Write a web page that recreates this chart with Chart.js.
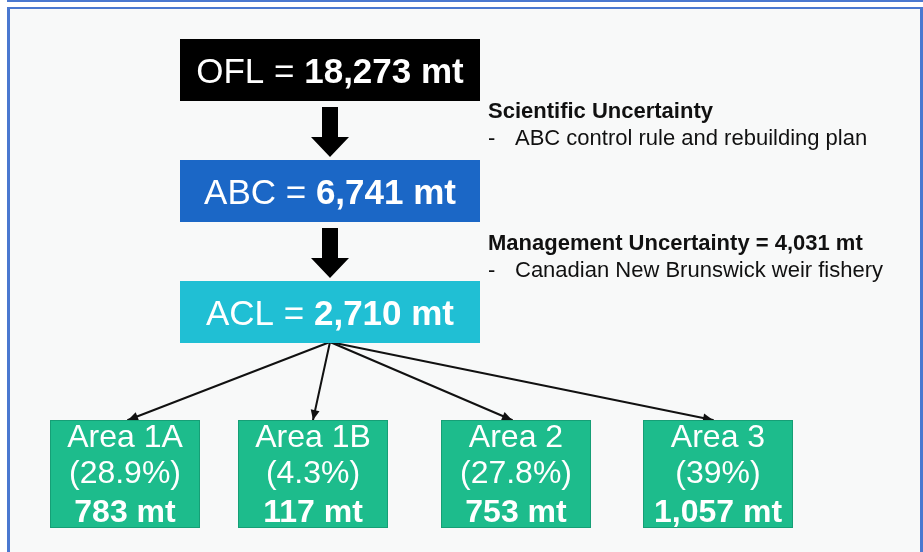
<!DOCTYPE html>
<html>
<head>
<meta charset="utf-8">
<script src="https://cdn.jsdelivr.net/npm/chart.js@4.4.1/dist/chart.umd.min.js"></script>
<style>
    html, body { margin: 0; padding: 0; background: #ffffff; overflow: hidden; }
    #topLine { position: absolute; left: 7px; top: 0; width: 916px; height: 2px; background: #4a78d0; }
    #frame {
        position: absolute; left: 7px; top: 7px; width: 910px; height: 600px;
        border: 3px solid #4a78d0; border-top-width: 2px; background: #f8f9f9;
    }
    #diagram { position: absolute; left: 0; top: 0; }
</style>
</head>
<body>
<div id="topLine"></div>
<div id="frame"></div>
<canvas id="diagram" width="923" height="552"></canvas>
<script>
// Limity połowowe - wartości z wykresu
var stageLabels = ['OFL', 'ABC', 'ACL'];
var stageValues = [18273, 6741, 2710];

var areaNames = ['Area 1A', 'Area 1B', 'Area 2', 'Area 3'];
var areaShares = ['28.9%', '4.3%', '27.8%', '39%'];
var areaValues = [783, 117, 753, 1057];

var noteTitles = ['Scientific Uncertainty', 'Management Uncertainty'];
var noteValues = [null, 4031];
var noteItems = ['ABC control rule and rebuilding plan', 'Canadian New Brunswick weir fishery'];

// układ (piksele strony) i style
var FONT = '"Liberation Sans", Arial, Helvetica, sans-serif';
var STAGE_BOX = { x: 180, w: 300, h: 62, tops: [39, 160, 281], colors: ['#000000', '#1b67c6', '#20bfd4'] };
var AREA_BOX = { xs: [50, 238, 441, 643], y: 420, w: 150, h: 108, color: '#1dbc8c', edge: '#169f76' };
var APEX = { x: 330, y: 342 };
var AREA_TIPS = [128, 313, 512, 713];
var BLOCK_ARROWS = [{ top: 107, tip: 157 }, { top: 228, tip: 278 }];
var NOTES = { x: 488, textX: 515, titleY: [118, 250], itemY: [145, 277] };

function fmt(v) { return v.toLocaleString('en-US'); }

var connectors = areaNames.map(function (name, i) {
    return {
        label: name,
        data: [{ x: APEX.x, y: APEX.y }, { x: AREA_TIPS[i], y: AREA_BOX.y }],
        borderColor: '#111111',
        borderWidth: 2,
        pointRadius: 0,
        fill: false,
        tension: 0,
    };
});

function drawMixed(ctx, parts, cx, baseline) {
    var total = 0;
    parts.forEach(function (p) { ctx.font = p.font; p.w = ctx.measureText(p.text).width; total += p.w; });
    var x = cx - total / 2;
    ctx.textAlign = 'left';
    ctx.textBaseline = 'alphabetic';
    parts.forEach(function (p) { ctx.font = p.font; ctx.fillText(p.text, x, baseline); x += p.w; });
}

var diagramPlugin = {
    id: 'diagram',
    afterDatasetsDraw: function (chart) {
        var ctx = chart.ctx;
        var sx = chart.scales.x, sy = chart.scales.y;
        function px(v) { return sx.getPixelForValue(v); }
        function py(v) { return sy.getPixelForValue(v); }
        ctx.save();

        // grotki na końcach łączników
        chart.data.datasets.forEach(function (ds, i) {
            var pts = chart.getDatasetMeta(i).data;
            var a = pts[0], b = pts[pts.length - 1];
            var ang = Math.atan2(b.y - a.y, b.x - a.x);
            var len = 10, half = 4.5;
            ctx.fillStyle = '#111111';
            ctx.beginPath();
            ctx.moveTo(b.x, b.y);
            ctx.lineTo(b.x - len * Math.cos(ang) + half * Math.sin(ang), b.y - len * Math.sin(ang) - half * Math.cos(ang));
            ctx.lineTo(b.x - len * Math.cos(ang) - half * Math.sin(ang), b.y - len * Math.sin(ang) + half * Math.cos(ang));
            ctx.closePath();
            ctx.fill();
        });

        // grube strzałki między etapami
        var cx = px(APEX.x);
        BLOCK_ARROWS.forEach(function (ar) {
            var top = py(ar.top), tip = py(ar.tip), headTop = tip - 20;
            ctx.fillStyle = '#000000';
            ctx.beginPath();
            ctx.moveTo(cx - 8, top);
            ctx.lineTo(cx + 8, top);
            ctx.lineTo(cx + 8, headTop);
            ctx.lineTo(cx + 19, headTop);
            ctx.lineTo(cx, tip);
            ctx.lineTo(cx - 19, headTop);
            ctx.lineTo(cx - 8, headTop);
            ctx.closePath();
            ctx.fill();
        });

        // prostokąty OFL / ABC / ACL
        stageLabels.forEach(function (lab, i) {
            var x0 = px(STAGE_BOX.x), y0 = py(STAGE_BOX.tops[i]);
            var w = px(STAGE_BOX.x + STAGE_BOX.w) - x0, h = py(STAGE_BOX.tops[i] + STAGE_BOX.h) - y0;
            ctx.fillStyle = STAGE_BOX.colors[i];
            ctx.fillRect(x0, y0, w, h);
            ctx.fillStyle = '#ffffff';
            drawMixed(ctx, [
                { text: lab + ' = ', font: '35px ' + FONT },
                { text: fmt(stageValues[i]) + ' mt', font: 'bold 35px ' + FONT },
            ], x0 + w / 2, y0 + h / 2 + 12.5);
        });

        // obszary
        areaNames.forEach(function (name, i) {
            var x0 = px(AREA_BOX.xs[i]), y0 = py(AREA_BOX.y);
            var w = px(AREA_BOX.xs[i] + AREA_BOX.w) - x0, h = py(AREA_BOX.y + AREA_BOX.h) - y0;
            ctx.fillStyle = AREA_BOX.color;
            ctx.fillRect(x0, y0, w, h);
            ctx.strokeStyle = AREA_BOX.edge;
            ctx.lineWidth = 1;
            ctx.strokeRect(x0 + 0.5, y0 + 0.5, w - 1, h - 1);
            ctx.fillStyle = '#ffffff';
            drawMixed(ctx, [{ text: name, font: '32px ' + FONT }], x0 + w / 2, y0 + 27);
            drawMixed(ctx, [{ text: '(' + areaShares[i] + ')', font: '32px ' + FONT }], x0 + w / 2, y0 + 63);
            drawMixed(ctx, [{ text: fmt(areaValues[i]) + ' mt', font: 'bold 32px ' + FONT }], x0 + w / 2, y0 + 102);
        });

        // opisy niepewności
        ctx.fillStyle = '#111111';
        ctx.textAlign = 'left';
        ctx.textBaseline = 'alphabetic';
        noteTitles.forEach(function (t, i) {
            var title = t + (noteValues[i] !== null ? ' = ' + fmt(noteValues[i]) + ' mt' : '');
            ctx.font = 'bold 22px ' + FONT;
            ctx.fillText(title, px(NOTES.x), py(NOTES.titleY[i]));
            ctx.font = '22px ' + FONT;
            ctx.fillText('-', px(NOTES.x), py(NOTES.itemY[i]));
            ctx.fillText(noteItems[i], px(NOTES.textX), py(NOTES.itemY[i]));
        });

        ctx.restore();
    },
};

new Chart(document.getElementById('diagram').getContext('2d'), {
    type: 'line',
    data: { datasets: connectors },
    options: {
        responsive: false,
        animation: false,
        layout: { padding: 0 },
        plugins: { legend: { display: false }, tooltip: { enabled: false } },
        elements: { line: { borderCapStyle: 'round' } },
        scales: {
            x: { type: 'linear', min: 0, max: 923, display: false },
            y: { type: 'linear', min: 0, max: 552, reverse: true, display: false },
        },
    },
    plugins: [diagramPlugin],
});
</script>
</body>
</html>
